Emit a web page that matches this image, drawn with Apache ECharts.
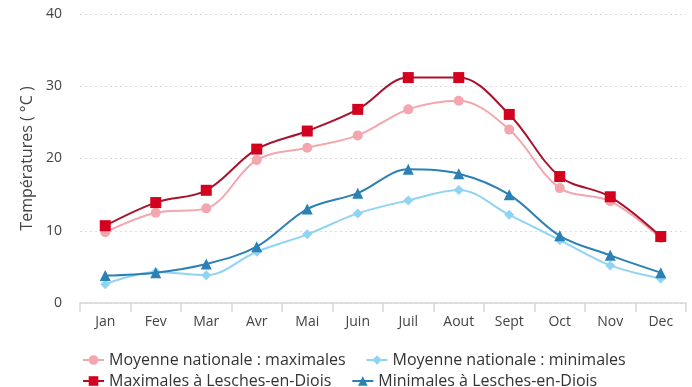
<!DOCTYPE html>
<html>
<head>
<meta charset="utf-8">
<script src="https://cdn.jsdelivr.net/npm/echarts@6/dist/echarts.min.js"></script>
<style>html,body{margin:0;padding:0;background:#fff;}#c{width:692px;height:387px;}</style>
</head>
<body>
<div id="c"></div>
<script>
const months = ['Jan','Fev','Mar','Avr','Mai','Juin','Juil','Aout','Sept','Oct','Nov','Dec'];
const natMax = [9.8, 12.5, 13.1, 19.8, 21.5, 23.2, 26.8, 28.0, 24.0, 15.9, 14.1, 9.0];
const natMin = [2.6, 4.3, 3.85, 7.1, 9.5, 12.4, 14.2, 15.65, 12.2, 8.7, 5.2, 3.4];
const lesMax = [10.7, 13.9, 15.6, 21.3, 23.8, 26.8, 31.2, 31.2, 26.1, 17.5, 14.7, 9.2];
const lesMin = [3.8, 4.2, 5.4, 7.8, 13.0, 15.2, 18.5, 17.9, 15.0, 9.3, 6.6, 4.2];
const yTicks = [0, 10, 20, 30, 40];
const names = ['Moyenne nationale : maximales','Moyenne nationale : minimales','Maximales à Lesches-en-Diois','Minimales à Lesches-en-Diois'];

const font = "'Open Sans', sans-serif";
const chart = echarts.init(document.getElementById('c'), null, {renderer:'canvas'});
function mk(name, data, color, lineColor, symbol, size, z){
  return {name, type:'line', data, smooth:0.35, symbol, symbolSize:size, z,
    lineStyle:{color:lineColor, width:2}, itemStyle:{color}};
}
const legendText = {fontFamily:font, fontSize:16, color:'#333'};
chart.setOption({
  animation:false,
  textStyle:{fontFamily:font},
  grid:{left:80, right:6, top:14, bottom:84},
  legend:[
    {data:[names[0], names[1]], left:77, top:347, itemGap:20, itemWidth:21, itemHeight:12, textStyle:legendText},
    {data:[names[2], names[3]], left:77, top:368, itemGap:20, itemWidth:21, itemHeight:12, textStyle:legendText}
  ],
  xAxis:{
    type:'category', data:months, boundaryGap:true,
    axisLine:{lineStyle:{color:'#d6d6d6', width:1.5}},
    axisTick:{show:true, length:9, lineStyle:{color:'#d6d6d6', width:1.5}},
    axisLabel:{color:'#444', fontSize:14, margin:12, fontFamily:font}
  },
  yAxis:{
    type:'value', min:yTicks[0], max:yTicks[yTicks.length-1], interval:10,
    name:'Températures ( °C )', nameLocation:'middle', nameGap:38, nameRotate:90,
    nameTextStyle:{color:'#444', fontSize:16, fontFamily:font},
    axisLine:{show:false}, axisTick:{show:false},
    axisLabel:{color:'#444', fontSize:14, margin:18, fontFamily:font},
    splitLine:{lineStyle:{color:'#dcdcdc', type:[2,3], width:1}}
  },
  series:[
    mk(names[0], natMax, '#f4a6ae', '#f4a6ae', 'circle', 10, 2),
    mk(names[1], natMin, '#8fd4f2', '#8fd4f2', 'diamond', 10, 2),
    mk(names[2], lesMax, '#d3001f', '#a8132b', 'rect', 11, 3),
    mk(names[3], lesMin, '#2b80b5', '#2b80b5', 'triangle', 11, 3)
  ]
});
</script>
</body>
</html>
